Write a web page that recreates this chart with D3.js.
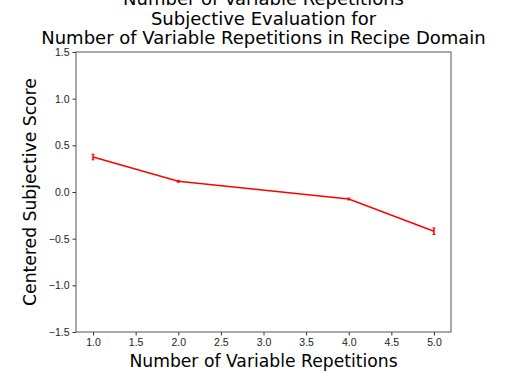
<!DOCTYPE html>
<html>
<head>
<meta charset="utf-8">
<script src="https://cdn.jsdelivr.net/npm/d3@7"></script>
<style>
  body { margin: 0; background: #fff; }
  svg { font-family: "DejaVu Sans", sans-serif; }
</style>
</head>
<body>
<div id="chart"></div>
<script>
// data
const repetitions = [1, 2, 4, 5];
const scores = [0.375, 0.115, -0.075, -0.42];
const errors = [0.03, 0.01, 0.01, 0.035];
const xTicks = [1.0, 1.5, 2.0, 2.5, 3.0, 3.5, 4.0, 4.5, 5.0];
const yTicks = [-1.5, -1.0, -0.5, 0.0, 0.5, 1.0, 1.5];
const titleLines = ['Number of Variable Repetitions', 'Subjective Evaluation for', 'Number of Variable Repetitions in Recipe Domain'];

const W = 508, H = 374;
const margin = { top: 52, right: 57, bottom: 42, left: 76 };
const width = W - margin.left - margin.right;
const height = H - margin.top - margin.bottom;

const svg = d3.select('#chart').append('svg')
    .attr('width', W)
    .attr('height', H);

const g = svg.append('g')
    .attr('transform', `translate(${margin.left},${margin.top})`);

const x = d3.scaleLinear().domain([0.8, 5.2]).range([0, width]);
const y = d3.scaleLinear().domain([-1.5, 1.5]).range([height, 0]);

// Axes
const xAxis = g.append('g')
    .attr('transform', `translate(0,${height})`)
    .call(d3.axisBottom(x).tickValues(xTicks).tickFormat(d3.format('.1f')).tickSize(3.5).tickPadding(3));
const yAxis = g.append('g')
    .call(d3.axisLeft(y).tickValues(yTicks).tickFormat(d => d3.format('.1f')(d).replace('-', '\u2212')).tickSize(3.5).tickPadding(3));

[xAxis, yAxis].forEach(a => {
    a.select('.domain').remove();
    a.selectAll('line').attr('stroke', '#333');
    a.selectAll('text').attr('fill', '#222').style('font-size', '10.5px');
});

// frame
g.append('rect')
    .attr('width', width)
    .attr('height', height)
    .attr('fill', 'none')
    .attr('stroke', '#555')
    .attr('stroke-width', 1);

// Line
const pts = repetitions.map((r, i) => ({ r, s: scores[i], e: errors[i] }));
g.append('path')
    .datum(pts)
    .attr('fill', 'none')
    .attr('stroke', '#ff0000')
    .attr('stroke-width', 1.5)
    .attr('d', d3.line().x(d => x(d.r)).y(d => y(d.s)));

// Error bars
const eb = g.selectAll('.err').data(pts).enter().append('g').attr('class', 'err');
eb.append('line')
    .attr('x1', d => x(d.r)).attr('x2', d => x(d.r))
    .attr('y1', d => y(d.s - d.e)).attr('y2', d => y(d.s + d.e))
    .attr('stroke', '#ff0000').attr('stroke-width', 1.5);
eb.append('line')
    .attr('x1', d => x(d.r) - 1.5).attr('x2', d => x(d.r) + 1.5)
    .attr('y1', d => y(d.s - d.e)).attr('y2', d => y(d.s - d.e))
    .attr('stroke', '#ff0000').attr('stroke-width', 1);
eb.append('line')
    .attr('x1', d => x(d.r) - 1.5).attr('x2', d => x(d.r) + 1.5)
    .attr('y1', d => y(d.s + d.e)).attr('y2', d => y(d.s + d.e))
    .attr('stroke', '#ff0000').attr('stroke-width', 1);

// Title
svg.append('text')
    .attr('text-anchor', 'middle')
    .style('font-size', '18px')
    .attr('fill', '#000')
    .selectAll('tspan')
    .data(titleLines)
    .enter().append('tspan')
    .attr('x', margin.left + width / 2)
    .attr('y', (d, i) => 5 + i * 19.7)
    .text(d => d);

// Axis labels
svg.append('text')
    .attr('x', margin.left + width / 2)
    .attr('y', 367)
    .attr('text-anchor', 'middle')
    .style('font-size', '17.2px')
    .text('Number of Variable Repetitions');

svg.append('text')
    .attr('transform', `translate(36,${margin.top + height / 2}) rotate(-90)`)
    .attr('text-anchor', 'middle')
    .style('font-size', '17.2px')
    .text('Centered Subjective Score');
</script>
</body>
</html>
